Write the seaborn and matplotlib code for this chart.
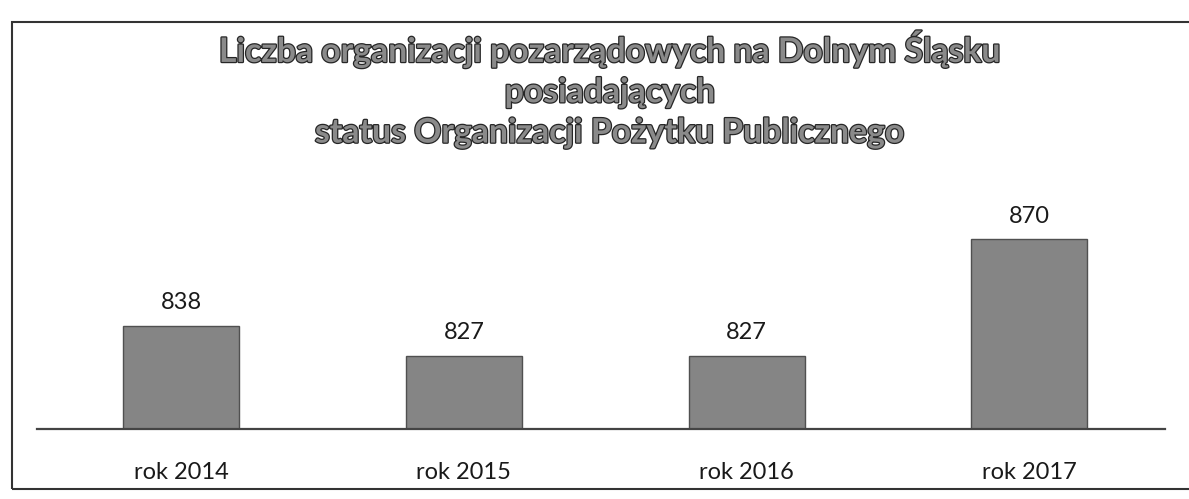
import pandas as pd
import matplotlib
matplotlib.use("Agg")
import matplotlib.pyplot as plt
import matplotlib.patheffects as pe
from matplotlib.patches import Rectangle
import seaborn as sns

# Dane
lata = ["rok 2014", "rok 2015", "rok 2016", "rok 2017"]
liczba_opp = [838, 827, 827, 870]
tytul = ("Liczba organizacji pozarządowych na Dolnym Śląsku\n"
         "posiadających\n"
         "status Organizacji Pożytku Publicznego")

df = pd.DataFrame({"rok": lata, "liczba": liczba_opp})

sns.set_theme(style="white")
plt.rcParams["font.family"] = ["Lato", "DejaVu Sans"]

fig = plt.figure(figsize=(11.89, 4.99), dpi=100)
ax = fig.add_axes([0.0311, 0.1403, 0.9487, 0.435])

sns.barplot(data=df, x="rok", y="liczba", color="#858585", width=0.41,
            edgecolor="#505050", linewidth=1.0, saturation=1, ax=ax)

ax.set_ylim(800, 880)
ax.set_xlim(-0.51, 3.48)

# etykiety wartości
ax.bar_label(ax.containers[0], padding=9, fontsize=17, color="#1a1a1a")
for t in ax.texts:
    t.set_clip_on(False)

ax.set_xlabel("")
ax.set_ylabel("")
ax.set_yticks([])
ax.tick_params(axis="x", length=0, pad=24, labelsize=17, labelcolor="#1a1a1a")
for s in ["top", "left", "right"]:
    ax.spines[s].set_visible(False)
ax.spines["bottom"].set_color("#444444")
ax.spines["bottom"].set_linewidth(1.6)

# tytuł
fig.text(0.513, 0.94, tytul, ha="center", va="top", fontsize=24.3,
         fontweight="bold", color="#8a8a8a", linespacing=1.32,
         path_effects=[pe.withStroke(linewidth=1.8, foreground="#262626")])

# ramka wykresu
fig.patches.append(Rectangle((12 / 1189, 10 / 499), 1.2, 467 / 499,
                             transform=fig.transFigure, fill=False,
                             edgecolor="#333333", linewidth=1.5))

plt.savefig("out.png", dpi=100)
